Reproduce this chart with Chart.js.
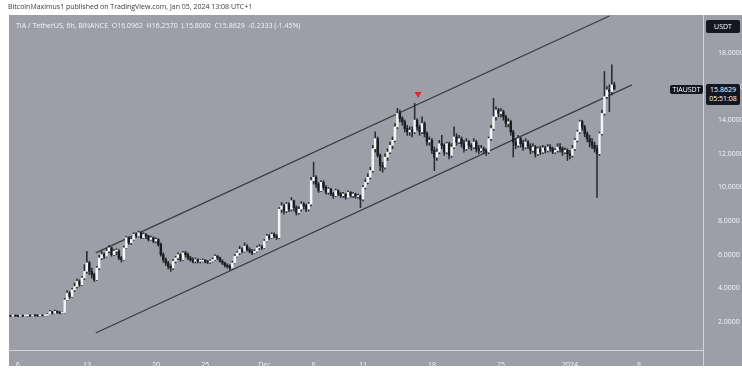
<!DOCTYPE html>
<html>
<head>
<meta charset="utf-8">
<script src="https://cdn.jsdelivr.net/npm/chart.js@4.4.1/dist/chart.umd.min.js"></script>
<style>
  body { margin: 0; background: #ffffff; }
  #wrap { position: relative; width: 742px; height: 374px; font-family: "Open Sans", "DejaVu Sans", sans-serif; }
  #grafico { position: absolute; left: 0; top: 0; }
  .txt { position: absolute; white-space: nowrap; font-size: 7px; line-height: 1; }
  #publicado { left: 8px; top: 3px; color: #3a3a3a; }
  #info { left: 16px; top: 22px; color: #f3f4f7; }
  .caixa { background: #131722; color: #ffffff; border-radius: 2px; text-align: center; }
  #moeda { left: 706px; top: 20px; width: 34px; height: 13px; line-height: 13px; }
  #simbolo { left: 670px; top: 85px; width: 33px; height: 9px; line-height: 9px; }
  #preco { left: 706px; top: 84px; width: 34px; height: 21px; line-height: 9px; padding-top: 1px; box-sizing: border-box; }
</style>
</head>
<body>
<div id="wrap">
  <canvas id="grafico" width="742" height="374"></canvas>
  <div class="txt" id="publicado">BitcoinMaximus1 published on TradingView.com, Jan 05, 2024 13:08 UTC+1</div>
  <div class="txt" id="info">TIA / TetherUS, 6h, BINANCE &nbsp;O16.0962 &nbsp;H16.2570 &nbsp;L15.8000 &nbsp;C15.8629 &nbsp;-0.2333 (-1.45%)</div>
  <div class="txt caixa" id="moeda">USDT</div>
  <div class="txt caixa" id="simbolo">TIAUSDT</div>
  <div class="txt caixa" id="preco">15.8629<br>05:51:08</div>
</div>
<script>
// Candles de 6h (dias contados a partir de 1 de dezembro)
const primeiroDia = -26;
const passo = 0.25;
const aberturaInicial = 2.34;

const fechamentos = [
    2.35, 2.33, 2.36, 2.34,   2.33, 2.35, 2.34, 2.36,   2.37, 2.35, 2.38, 2.36,   2.35, 2.37, 2.36, 2.38,
    2.45, 2.60, 2.50, 2.62,   2.55, 2.52, 2.55, 3.30,   3.70, 3.50, 3.90, 4.10,   4.40, 4.20, 4.60, 5.00,
    5.50, 5.00, 4.80, 4.50,   5.20, 5.80, 6.00, 5.90,   6.20, 6.40, 6.00, 6.20,   6.20, 5.80, 5.70, 6.40,
    7.00, 6.70, 6.90, 7.20,   7.10, 7.30, 7.00, 7.20,   7.10, 6.90, 7.00, 6.80,   6.90, 6.60, 6.00, 5.70,
    5.50, 5.30, 5.20, 5.60,   5.80, 6.00, 5.70, 6.10,   6.00, 5.80, 5.70, 5.60,   5.70, 5.60, 5.60, 5.65,
    5.60, 5.55, 5.60, 5.70,   5.90, 5.80, 5.60, 5.50,   5.35, 5.30, 5.20, 5.50,   5.90, 6.10, 6.30, 6.20,
    6.50, 6.30, 6.20, 6.10,   6.20, 6.40, 6.45, 6.40,   6.80, 7.10, 7.00, 7.20,   7.10, 7.00, 8.70, 8.90,
    8.60, 9.00, 8.70, 9.20,   8.80, 8.50, 8.70, 9.00,   8.90, 8.70, 9.00, 10.40,  10.60, 10.20, 9.80, 10.30,
    10.00, 9.70, 9.90, 9.60,  9.50, 9.80, 9.60, 9.50,   9.60, 9.40, 9.70, 9.50,   9.60, 9.45, 9.50, 9.30,
    10.00, 10.30, 10.60, 11.00, 12.30, 12.90, 11.90, 11.30, 11.20, 11.80, 12.10, 12.50, 12.80, 13.60, 14.40, 14.10,
    13.90, 13.50, 13.30, 13.40, 13.30, 14.00, 13.60, 13.30, 13.80, 13.20, 12.70, 12.80, 12.20, 11.80, 12.10, 12.60,
    12.50, 12.10, 12.60, 11.90, 12.40, 13.00, 12.70, 12.90, 12.60, 12.30, 12.70, 12.50, 12.40, 12.70, 12.30, 12.20,
    12.30, 12.20, 12.10, 12.90, 13.50, 14.20, 14.60, 14.40, 14.50, 14.20, 13.80, 13.90, 13.30, 12.70, 12.50, 12.90,
    12.60, 12.40, 12.70, 12.45, 12.20, 12.40, 12.00, 12.30, 12.10, 12.35, 12.20, 12.40, 12.30, 12.10, 12.20, 12.40,
    12.30, 12.10, 12.20, 12.00, 11.90, 12.30, 12.80, 13.30, 13.90, 13.60, 13.20, 12.90, 12.70, 12.50, 12.30, 12.00,
    13.20, 14.40, 15.40, 15.80, 15.70, 16.0962, 15.8629
];

const maximas = [
    2.38, 2.37, 2.38, 2.37,   2.36, 2.37, 2.37, 2.38,   2.40, 2.39, 2.41, 2.40,   2.38, 2.40, 2.39, 2.41,
    2.50, 2.68, 2.63, 2.70,   2.66, 2.60, 2.60, 3.40,   3.85, 3.80, 4.00, 4.30,   4.55, 4.50, 4.70, 5.40,
    6.20, 5.60, 5.20, 4.90,   5.30, 5.95, 6.20, 6.10,   6.35, 6.55, 6.45, 6.30,   6.35, 6.30, 5.90, 6.50,
    7.10, 7.05, 7.00, 7.30,   7.30, 7.40, 7.35, 7.30,   7.25, 7.15, 7.10, 7.05,   7.00, 6.95, 6.70, 6.10,
    5.80, 5.60, 5.40, 5.70,   5.90, 6.10, 6.05, 6.20,   6.20, 6.10, 5.90, 5.80,   5.80, 5.75, 5.70, 5.75,
    5.72, 5.65, 5.68, 5.80,   6.00, 5.95, 5.85, 5.70,   5.55, 5.45, 5.40, 5.60,   6.00, 6.20, 6.50, 6.40,
    6.70, 6.60, 6.40, 6.30,   6.30, 6.50, 6.60, 6.55,   6.90, 7.20, 7.20, 7.30,   7.30, 7.20, 8.80, 9.10,
    9.00, 9.10, 9.10, 9.40,   9.25, 8.90, 8.85, 9.15,   9.10, 9.00, 9.10, 10.60,  11.50, 10.70, 10.30, 10.40,
    10.40, 10.10, 10.00, 9.95, 9.70, 9.90, 9.85, 9.70,  9.70, 9.65, 9.80, 9.75,   9.70, 9.65, 9.60, 9.55,
    10.10, 10.50, 10.80, 11.20, 12.50, 13.30, 13.00, 12.00, 11.50, 12.00, 12.30, 12.70, 13.00, 13.80, 14.70, 14.60,
    14.20, 14.00, 13.70, 13.60, 13.60, 15.00, 14.10, 13.70, 14.20, 13.90, 13.30, 13.00, 12.90, 12.40, 12.30, 12.80,
    13.10, 12.60, 12.70, 12.70, 12.60, 13.60, 13.20, 13.10, 13.00, 12.80, 12.90, 12.80, 12.60, 12.90, 12.80, 12.50,
    12.50, 12.40, 12.30, 13.00, 13.70, 15.30, 14.80, 14.70, 14.70, 14.60, 14.30, 14.10, 14.00, 13.40, 12.90, 13.10,
    13.00, 12.80, 12.90, 12.80, 12.60, 12.60, 12.50, 12.40, 12.45, 12.50, 12.45, 12.55, 12.55, 12.40, 12.30, 12.60,
    12.60, 12.40, 12.35, 12.30, 12.20, 12.50, 12.90, 13.40, 14.00, 14.00, 13.70, 13.30, 13.10, 12.90, 12.70, 12.50,
    13.30, 14.60, 16.90, 16.00, 16.10, 17.30, 16.257
];

const minimas = [
    2.31, 2.30, 2.32, 2.31,   2.30, 2.31, 2.31, 2.32,   2.33, 2.32, 2.34, 2.33,   2.32, 2.33, 2.33, 2.34,
    2.36, 2.43, 2.46, 2.48,   2.50, 2.46, 2.48, 2.52,   3.25, 3.40, 3.45, 3.80,   4.00, 4.10, 4.15, 4.50,
    4.90, 4.80, 4.60, 4.40,   4.45, 5.10, 5.70, 5.75,   5.85, 6.10, 5.90, 5.95,   6.00, 5.70, 5.55, 5.65,
    6.35, 6.60, 6.60, 6.85,   7.00, 7.05, 6.95, 6.95,   6.95, 6.80, 6.85, 6.70,   6.70, 6.50, 5.90, 5.55,
    5.35, 5.15, 5.00, 5.10,   5.50, 5.70, 5.60, 5.65,   5.85, 5.70, 5.60, 5.50,   5.50, 5.50, 5.50, 5.55,
    5.50, 5.45, 5.48, 5.55,   5.65, 5.70, 5.55, 5.40,   5.25, 5.20, 5.05, 5.15,   5.45, 5.85, 6.00, 6.10,
    6.15, 6.20, 6.10, 6.00,   6.05, 6.15, 6.30, 6.30,   6.35, 6.75, 6.90, 6.95,   7.00, 6.90, 6.95, 8.50,
    8.40, 8.50, 8.55, 8.60,   8.60, 8.35, 8.40, 8.60,   8.70, 8.55, 8.60, 8.90,   10.20, 10.00, 9.70, 9.75,
    9.85, 9.60, 9.60, 9.50,   9.35, 9.45, 9.50, 9.40,   9.40, 9.30, 9.35, 9.40,   9.40, 9.35, 9.35, 8.80,
    9.20, 9.90, 10.20, 10.50, 10.90, 12.10, 11.80, 11.00, 10.90, 11.10, 11.60, 12.00, 12.30, 12.70, 13.50, 13.90,
    13.70, 13.30, 13.10, 13.10, 13.00, 13.20, 13.40, 13.10, 13.20, 13.00, 12.50, 12.50, 12.00, 11.00, 11.60, 12.00,
    12.30, 11.90, 12.00, 11.70, 11.80, 12.30, 12.50, 12.60, 12.40, 12.10, 12.20, 12.30, 12.20, 12.30, 12.10, 12.00,
    12.10, 12.00, 11.90, 12.00, 12.80, 13.40, 14.00, 14.20, 14.20, 14.00, 13.60, 13.60, 13.10, 11.80, 12.30, 12.40,
    12.40, 12.20, 12.30, 12.30, 12.00, 12.10, 11.80, 11.90, 11.95, 12.00, 12.05, 12.10, 12.15, 12.00, 12.00, 12.10,
    12.10, 11.90, 12.00, 11.60, 11.70, 11.80, 12.20, 12.70, 13.20, 13.40, 13.00, 12.70, 12.40, 12.30, 12.10, 9.40,
    11.90, 13.10, 14.30, 15.30, 14.50, 15.50, 15.80
];

// Linhas do canal (dia, preço)
const canalSuperior = [{ x: -17.1, y: 6.10 }, { x: 35.0, y: 20.2 }];
const canalInferior = [{ x: -17.1, y: 1.33 }, { x: 37.3, y: 16.1 }];
const marcaTopo = [{ x: 15.6, y: 15.56 }];

// Eixos
const diasTicks = [-25, -18, -11, -6, 0, 5, 10, 17, 24, 31, 38];
const rotulosTicks = ['6', '13', '20', '25', 'Dec', '6', '11', '18', '25', '2024', '8'];
const precosTicks = [2, 4, 6, 8, 10, 12, 14, 16, 18];

// Montar dados das velas
const corpos = [];
const pavios = [];
const coresCorpo = [];
fechamentos.forEach((c, i) => {
    const o = i === 0 ? aberturaInicial : fechamentos[i - 1];
    const dia = primeiroDia + i * passo;
    corpos.push({ x: dia, y: [o, c] });
    pavios.push({ x: dia, y: [minimas[i], maximas[i]] });
    coresCorpo.push(c >= o ? '#f4f5f7' : '#1b1c20');
});

const fundo = {
    id: 'fundo',
    beforeDraw(chart) {
        const ctx = chart.ctx;
        ctx.save();
        ctx.fillStyle = '#9d9fa8';
        ctx.fillRect(9, 15, 733, 351);
        ctx.restore();
    },
    afterDraw(chart) {
        const ctx = chart.ctx;
        const a = chart.chartArea;
        ctx.save();
        ctx.strokeStyle = '#d4d6dc';
        ctx.lineWidth = 1;
        ctx.beginPath();
        ctx.moveTo(a.right + 0.5, 15);
        ctx.lineTo(a.right + 0.5, 366);
        ctx.moveTo(9, a.bottom + 0.5);
        ctx.lineTo(a.right, a.bottom + 0.5);
        ctx.stroke();
        ctx.restore();
    }
};

const ctx = document.getElementById('grafico').getContext('2d');
const grafico = new Chart(ctx, {
    type: 'bar',
    data: {
        datasets: [
            {
                label: 'Corpo',
                data: corpos,
                backgroundColor: coresCorpo,
                barThickness: 1.8,
                minBarLength: 1,
                grouped: false
            },
            {
                label: 'Pavio',
                data: pavios,
                backgroundColor: '#2a2b30',
                barThickness: 0.9,
                grouped: false
            },
            {
                type: 'line',
                label: 'Canal superior',
                data: canalSuperior,
                borderColor: '#3b3c42',
                borderWidth: 1.3,
                pointRadius: 0
            },
            {
                type: 'line',
                label: 'Canal inferior',
                data: canalInferior,
                borderColor: '#3b3c42',
                borderWidth: 1.3,
                pointRadius: 0
            },
            {
                type: 'line',
                label: 'Topo',
                data: marcaTopo,
                showLine: false,
                pointStyle: 'triangle',
                rotation: 180,
                pointRadius: 4,
                backgroundColor: '#e8232a',
                borderColor: '#e8232a',
                borderWidth: 0
            }
        ]
    },
    options: {
        responsive: false,
        animation: false,
        layout: { padding: { left: 9, top: 15, right: 0, bottom: 8 } },
        plugins: {
            legend: { display: false },
            tooltip: { enabled: false }
        },
        scales: {
            x: {
                type: 'linear',
                offset: false,
                min: -25.9,
                max: 44.5,
                grid: { display: false },
                border: { display: false },
                afterBuildTicks: axis => { axis.ticks = diasTicks.map(v => ({ value: v })); },
                afterFit: axis => { axis.height = 16; },
                ticks: {
                    autoSkip: false,
                    maxRotation: 0,
                    padding: 3,
                    color: '#f3f4f7',
                    font: { size: 7, family: 'Open Sans' },
                    callback: (v, i) => rotulosTicks[i]
                }
            },
            y: {
                position: 'right',
                min: 0.32,
                max: 20.26,
                grid: { display: false },
                border: { display: false },
                afterBuildTicks: axis => { axis.ticks = precosTicks.map(v => ({ value: v })); },
                afterFit: axis => { axis.width = 39; },
                ticks: {
                    padding: 7,
                    color: '#f3f4f7',
                    font: { size: 7, family: 'Open Sans' },
                    callback: v => v.toFixed(4)
                }
            }
        }
    },
    plugins: [fundo]
});
</script>
</body>
</html>
